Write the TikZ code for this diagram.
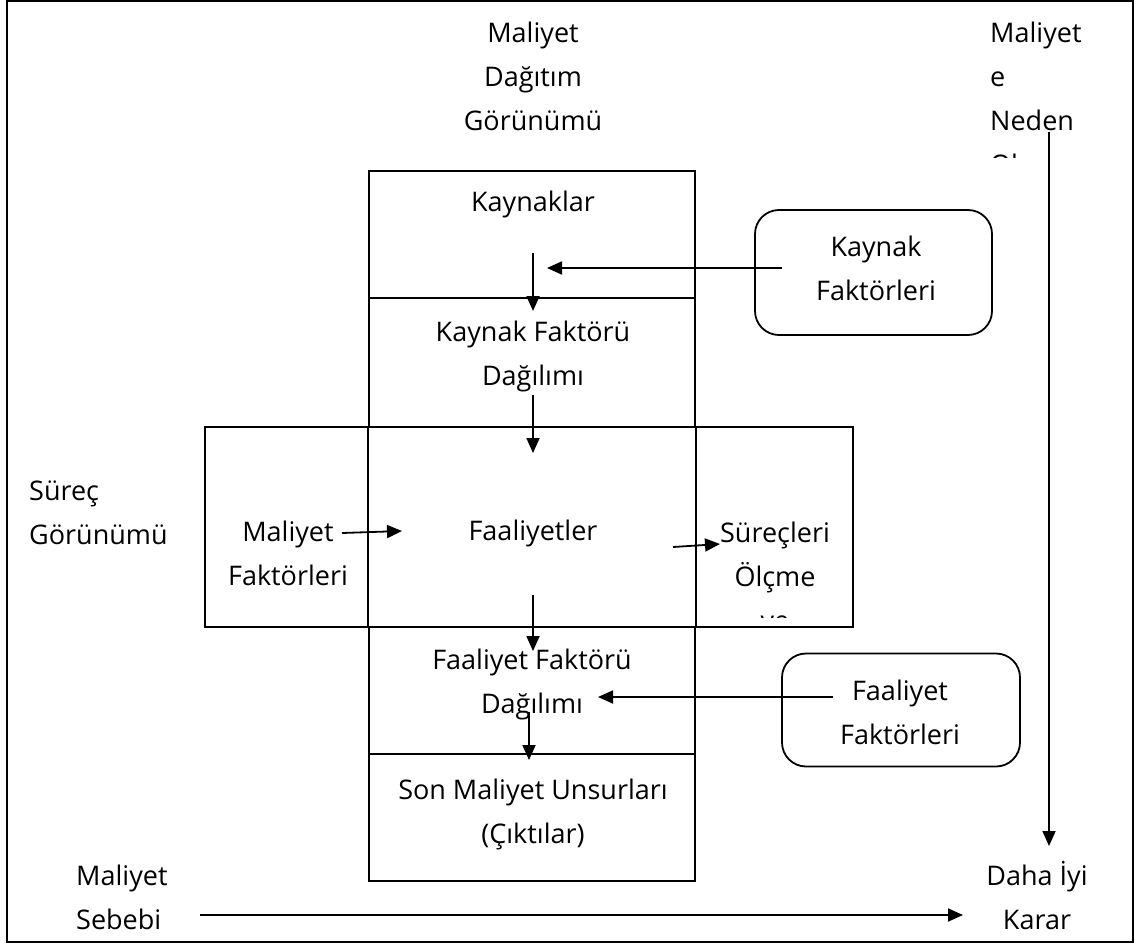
\documentclass[tikz,border=0pt]{standalone}
\usepackage{fontspec}
\setmainfont{Open Sans}
\usetikzlibrary{arrows.meta}
\begin{document}
\begin{tikzpicture}[x=1pt,y=-1pt,
  % multi-line labels are placed by the baseline of their last line
  lbl/.style={font=\fontsize{27}{44}\selectfont, inner sep=0pt, align=center, anchor=base},
  lbll/.style={lbl, align=left, anchor=base west},
  box/.style={draw, line width=1.8pt, inner sep=0pt},
  rbox/.style={draw, line width=1.8pt, rounded corners=24pt, inner sep=0pt},
  arr/.style={-{Triangle[length=15pt,width=13pt]}, line width=1.8pt}]
\useasboundingbox (0,0) rectangle (1135,944);

% outer frame
\node[box, minimum width=1126pt, minimum height=941pt] (frame) at (570,471.5) {};

% central column of cost assignment
\node[box, minimum width=326pt, minimum height=127pt] (res)   at (532,234.5) {};
\node[box, minimum width=326pt, minimum height=129pt] (rdist) at (532,362.5) {};
\node[box, minimum width=648pt, minimum height=200pt] (act)   at (529,527) {};
\draw[line width=1.8pt] (rdist.south west) -- (rdist.south west |- act.south);
\draw[line width=1.8pt] (rdist.south east) -- (rdist.south east |- act.south);
\node[box, minimum width=326pt, minimum height=127pt] (adist) at (532,690.5) {};
\node[box, minimum width=326pt, minimum height=127pt] (obj)   at (532,817.5) {};

% side boxes with rounded corners
\node[rbox, minimum width=237pt, minimum height=125pt] (rf) at (873.5,272.5) {};
\node[rbox, minimum width=238pt, minimum height=113pt] (af) at (901,710) {};

% labels
\node[lbl] (t1) at (533,131) {Maliyet\\Dağıtım\\Görünümü};
\begin{scope}
  \clip (980,0) rectangle (1130,158);
  \node[lbll] (t2) at (990,175) {Maliyet\\e\\Neden\\Olan};
\end{scope}
\node[lbl] (t3) at (533,212) {Kaynaklar};
\node[lbl] (t4) at (533,385) {Kaynak Faktörü\\Dağılımı};
\node[lbl] (t5) at (533,540) {Faaliyetler};
\node[lbl] (t6) at (288,585) {Maliyet\\Faktörleri};
\begin{scope}
  \clip (700,430) rectangle (850,617);
  \node[lbl] (t7) at (775,630) {Süreçleri\\Ölçme\\ve};
\end{scope}
\node[lbll] (t8) at (29,544) {Süreç\\Görünümü};
\node[lbl] (t9) at (532,713) {Faaliyet Faktörü\\Dağılımı};
\node[lbl] (t10) at (533,843) {Son Maliyet Unsurları\\(Çıktılar)};
\node[lbll] (t11) at (76,929) {Maliyet\\Sebebi};
\node[lbl] (t12) at (1037,929) {Daha İyi\\Karar};
\node[lbl] (t13) at (876,300) {Kaynak\\Faktörleri};
\node[lbl] (t14) at (900,744) {Faaliyet\\Faktörleri};

% arrow ends
\coordinate (p1) at (533,253);  \coordinate (q1) at (533,311);
\coordinate (p2) at (782,268);  \coordinate (q2) at (547,268);
\coordinate (p3) at (533,395);  \coordinate (q3) at (533,453);
\coordinate (p4) at (342,533);  \coordinate (q4) at (402,531);
\coordinate (p5) at (673,547);  \coordinate (q5) at (720,544);
\coordinate (p6) at (533,595);  \coordinate (q6) at (533,651);
\coordinate (p7) at (833,697);  \coordinate (q7) at (598,697);
\coordinate (p8) at (529,712);  \coordinate (q8) at (529,760);
\coordinate (p9) at (1049,132); \coordinate (q9) at (1049,846);
\coordinate (p10) at (200,915); \coordinate (q10) at (963,915);

% connectors
\draw[arr] (p1) -- (q1);
\draw[arr] (p2) -- (q2);
\draw[arr] (p3) -- (q3);
\draw[arr] (p4) -- (q4);
\draw[arr] (p5) -- (q5);
\draw[arr] (p6) -- (q6);
\draw[arr] (p7) -- (q7);
\draw[arr] (p8) -- (q8);
\draw[arr] (p9) -- (q9);
\draw[arr] (p10) -- (q10);
\end{tikzpicture}
\end{document}
